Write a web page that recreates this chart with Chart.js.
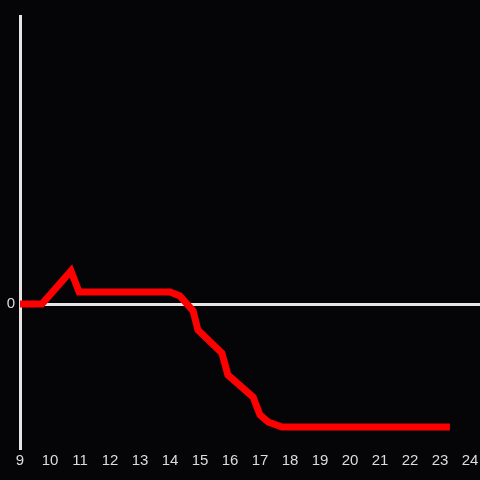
<!DOCTYPE html>
<html>
<head>
<meta charset="UTF-8">
<style>
    html, body { margin: 0; padding: 0; background: #050407; }
    #wrap { width: 480px; height: 480px; }
</style>
</head>
<body>
<div id="wrap"><canvas id="chart"></canvas></div>
<script src="https://cdn.jsdelivr.net/npm/chart.js"></script>
<script>
    // data
    const hours = [9, 9.73, 10.7, 10.97, 14.0, 14.33, 14.77, 14.93, 15.73, 15.93, 16.77, 17.0, 17.27, 17.73, 23.33];
    const values = [0, 0, 0.33, 0.12, 0.12, 0.08, -0.07, -0.26, -0.49, -0.71, -0.93, -1.11, -1.18, -1.23, -1.23];
    const xTicks = [9, 10, 11, 12, 13, 14, 15, 16, 17, 18, 19, 20, 21, 22, 23, 24];
    const yTicks = [0];

    const points = hours.map((h, i) => ({ x: h, y: values[i] }));
    const tickFont = { family: "Liberation Sans", size: 15 };

    new Chart(document.getElementById("chart"), {
        type: "line",
        data: {
            datasets: [{
                data: points,
                borderColor: "#ff0000",
                borderWidth: 7,
                pointRadius: 0,
                tension: 0,
                fill: false
            }]
        },
        options: {
            responsive: true,
            maintainAspectRatio: false,
            animation: false,
            layout: { padding: { top: 16, right: 0, left: 0, bottom: 0 } },
            plugins: { legend: { display: false }, tooltip: { enabled: false } },
            scales: {
                x: {
                    type: "linear",
                    min: 9,
                    max: 24.333,
                    afterBuildTicks: axis => { axis.ticks = xTicks.map(v => ({ value: v })); },
                    afterFit: axis => { axis.height = 32; axis.paddingRight = 0; axis.paddingLeft = 0; },
                    grid: { display: false, drawTicks: false },
                    border: { display: false },
                    ticks: { color: "#dddddd", font: tickFont, padding: 4, maxRotation: 0, autoSkip: false }
                },
                y: {
                    min: -1.44,
                    max: 2.88,
                    afterBuildTicks: axis => { axis.ticks = yTicks.map(v => ({ value: v })); },
                    afterFit: axis => { axis.width = 20; },
                    grid: { color: "#e6e6e6", lineWidth: 3, drawTicks: false },
                    border: { display: true, color: "#e6e6e6", width: 3 },
                    ticks: { color: "#dddddd", font: tickFont, padding: 5 }
                }
            }
        }
    });
</script>
</body>
</html>
